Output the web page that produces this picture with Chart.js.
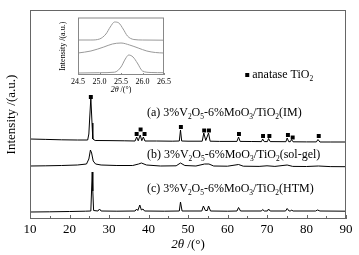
<!DOCTYPE html>
<html>
<head>
<meta charset="utf-8">
<script src="https://cdn.jsdelivr.net/npm/chart.js@4.4.1/dist/chart.umd.min.js"></script>
<style>
  html, body { margin: 0; padding: 0; background: #fff; }
  #wrap { position: relative; width: 359px; height: 255px; }
  #xrdChart { position: absolute; left: 0; top: 0; width: 359px; height: 255px; }
  #insetChart { position: absolute; left: 55px; top: 12px; width: 120px; height: 88px; }
</style>
</head>
<body>
<div id="wrap">
  <canvas id="xrdChart" width="359" height="255"></canvas>
  <canvas id="insetChart" width="120" height="88"></canvas>
</div>
<script>
// XRD patterns, [2θ, intensity (a.u.)]
const imPattern = [[10,80],[14,79.6],[18,79.2],[22,79],[24.6,79],[24.9,85],[25.1,100],[25.4,121],[25.7,96],[25.9,80],[26.5,78.5],
  [30,78.4],[34,78.2],[36.6,78],[37.0,82],[37.4,78.2],[37.9,84],[38.3,78.3],[38.7,82],[39.1,78],[42,78],[46,77.8],
  [47.8,78],[48.1,89],[48.4,78],[50,77.8],[53.6,77.8],[54.0,86],[54.5,78.5],[55.2,86],[55.6,77.8],[58,77.6],
  [62.4,77.6],[62.8,82],[63.2,77.6],[66,77.5],[68.6,77.4],[68.9,80],[69.3,77.4],[70.1,77.4],[70.4,80.5],[70.8,77.4],
  [74.8,77.3],[75.1,81],[75.5,77.3],[75.9,77.3],[76.2,79.5],[76.6,77.2],[80,77.1],[82.5,77.1],[82.9,79.5],[83.4,77],[86,77],[90,77]];
const solGelPattern = [[10,53],[14,53.2],[18,53.5],[22,54],[24.3,55],[24.9,60],[25.3,69],[25.6,66],[26.0,58],[26.6,55],[28,54],
  [32,53.5],[36,53.5],[37.5,55],[38.2,56],[39.5,54],[43,53],[47,53.2],[48.1,56],[49.2,53.5],[52,53],[54.2,55],[55.3,55],
  [56.5,53],[60,52.8],[62.8,54.5],[64,52.8],[68,52.6],[70,53.2],[72,52.6],[75.1,54],[76.5,52.6],[80,52.5],[83,53],[86,52.4],[90,52.3]];
const htmPattern = [[10,7],[15,7.2],[20,7.5],[24,7.8],[25.4,8],[25.6,30],[25.75,47],[25.9,28],[26.1,8.5],[27.2,8],[27.6,10],[28,8],
  [32,7.8],[36.6,8],[37.0,10],[37.3,8.5],[37.8,14],[38.2,9],[38.6,10],[39,8],[44,7.8],[47.8,8],[48.1,17],[48.5,8],
  [53.5,8],[53.9,13],[54.4,8.5],[54.9,8.5],[55.2,13],[55.7,8],[60,7.8],[62.4,8],[62.8,11.5],[63.3,8],[68.6,8],[68.9,9.5],
  [69.3,8],[70.1,8],[70.4,10],[70.8,8],[74.7,8],[75.1,10.5],[75.6,8],[76.0,8],[76.2,9],[76.6,8],[82.3,8],[82.8,9],[83.4,8],[90,7.8]];
// anatase markers over pattern (a)
const anataseMarks = [[25.4,122],[37.0,85],[38.0,89.5],[39.0,85],[48.2,92],[54.1,88.5],[55.3,88.5],[62.9,85],
  [69.0,83],[70.6,83],[75.3,84],[76.5,81.5],[83.1,83]];
const sampleLabels = ['(a) 3%V_2O_5-6%MoO_3/TiO_2(IM)', '(b) 3%V_2O_5-6%MoO_3/TiO_2(sol-gel)', '(c) 3%V_2O_5-6%MoO_3/TiO_2(HTM)'];
const legendLabel = 'anatase TiO_2';

// inset: the (101) peak, 24.5-26.5°
const insetIM = [[24.5,35],[24.8,35],[25.0,36],[25.15,41],[25.25,48],[25.35,53],[25.45,52],[25.55,46],[25.65,39],[25.8,35.5],[26.0,35],[26.5,34.8]];
const insetSolGel = [[24.5,22],[24.8,24],[25.1,28],[25.3,31],[25.5,32],[25.7,30],[25.9,27],[26.1,24],[26.3,22.5],[26.5,22]];
const insetHTM = [[24.5,2],[25.0,2.3],[25.35,2.8],[25.5,8],[25.6,16],[25.68,20],[25.78,18],[25.88,12],[26.0,4],[26.2,2.5],[26.5,2.3]];

const FONT = "'Liberation Serif', 'DejaVu Serif', serif";
Chart.defaults.font.family = FONT;
Chart.defaults.color = '#000';

const toXY = arr => arr.map(p => ({ x: p[0], y: p[1] }));

// text with _x subscripts and *italic* parts
function drawRich(ctx, str, x, y, size, align) {
  const parts = [];
  let italic = false;
  for (let i = 0; i < str.length; i++) {
    const c = str[i];
    if (c === '*') { italic = !italic; continue; }
    if (c === '_') { parts.push({ t: str[i + 1], sub: true, it: italic }); i++; continue; }
    const last = parts[parts.length - 1];
    if (last && !last.sub && last.it === italic) last.t += c;
    else parts.push({ t: c, sub: false, it: italic });
  }
  const fontOf = p => (p.it ? 'italic ' : '') + (p.sub ? size * 0.62 : size) + 'px ' + FONT;
  let w = 0;
  parts.forEach(p => { ctx.font = fontOf(p); p.w = ctx.measureText(p.t).width; w += p.w; });
  let cx = align === 'center' ? x - w / 2 : x;
  ctx.textBaseline = 'middle';
  ctx.textAlign = 'left';
  parts.forEach(p => {
    ctx.font = fontOf(p);
    ctx.fillText(p.t, cx, p.sub ? y + size * 0.32 : y);
    cx += p.w;
  });
}

const xrdDecor = {
  id: 'xrdDecor',
  afterDraw(chart) {
    const { ctx, chartArea: a, scales: { x, y } } = chart;
    ctx.save();
    ctx.strokeStyle = '#666';
    ctx.lineWidth = 1;
    ctx.strokeRect(a.left + 0.5, a.top + 0.5, a.right - a.left - 1, a.bottom - a.top - 1);
    ctx.beginPath();
    for (let v = 10; v <= 90; v += 5) {
      const px = Math.round(x.getPixelForValue(v)) + 0.5;
      ctx.moveTo(px, a.bottom);
      ctx.lineTo(px, a.bottom - (v % 10 ? 3 : 4));
    }
    ctx.stroke();

    ctx.fillStyle = '#000';
    const lx = x.getPixelForValue(39.6);
    drawRich(ctx, sampleLabels[0], lx, y.getPixelForValue(106), 12, 'left');
    drawRich(ctx, sampleLabels[1], lx, y.getPixelForValue(64), 12, 'left');
    drawRich(ctx, sampleLabels[2], lx, y.getPixelForValue(30), 12, 'left');

    // legend
    const gx = x.getPixelForValue(65), gy = y.getPixelForValue(144);
    ctx.fillRect(gx - 2, gy - 2, 4, 4);
    drawRich(ctx, legendLabel, gx + 5, gy, 12, 'left');

    // axis titles
    drawRich(ctx, '*2θ* /(°)', (a.left + a.right) / 2, 245, 13, 'center');
    ctx.translate(12, (a.top + a.bottom) / 2);
    ctx.rotate(-Math.PI / 2);
    drawRich(ctx, 'Intensity /(a.u.)', 0, 0, 13, 'center');
    ctx.restore();
  }
};

const line = (data, color) => ({
  type: 'line', data: toXY(data), borderColor: color, borderWidth: 1,
  pointRadius: 0, tension: 0, fill: false
});

new Chart(document.getElementById('xrdChart').getContext('2d'), {
  data: {
    datasets: [
      line(imPattern, '#000'),
      line(solGelPattern, '#000'),
      line(htmPattern, '#000'),
      {
        type: 'scatter', data: toXY(anataseMarks), pointStyle: 'rect',
        pointRadius: 2.8, backgroundColor: '#000', borderColor: '#000', borderWidth: 0
      }
    ]
  },
  options: {
    responsive: false,
    animation: false,
    layout: { padding: { left: 30, right: 13, top: 10, bottom: 0 } },
    plugins: { legend: { display: false }, tooltip: { enabled: false } },
    scales: {
      x: {
        type: 'linear', min: 10, max: 90,
        afterFit: s => { s.height = 36; },
        grid: { display: false, drawTicks: false },
        border: { display: false },
        ticks: { stepSize: 10, padding: 3, color: '#000', font: { size: 13 } }
      },
      y: { display: false, min: 0, max: 209 }
    }
  },
  plugins: [xrdDecor]
});

const insetDecor = {
  id: 'insetDecor',
  afterDraw(chart) {
    const { ctx, chartArea: a, scales: { x } } = chart;
    ctx.save();
    ctx.strokeStyle = '#888';
    ctx.lineWidth = 1;
    ctx.strokeRect(a.left + 0.5, a.top + 0.5, a.right - a.left - 1, a.bottom - a.top - 1);
    ctx.beginPath();
    for (let v = 24.5; v <= 26.5; v += 0.5) {
      const px = Math.round(x.getPixelForValue(v)) + 0.5;
      ctx.moveTo(px, a.bottom);
      ctx.lineTo(px, a.bottom - 2);
    }
    ctx.stroke();
    ctx.fillStyle = '#000';
    drawRich(ctx, '*2θ* /(°)', (a.left + a.right) / 2, 78, 8, 'center');
    ctx.translate(8, (a.top + a.bottom) / 2);
    ctx.rotate(-Math.PI / 2);
    drawRich(ctx, 'Intensity /(a.u.)', 0, 0, 8, 'center');
    ctx.restore();
  }
};

const insetLine = data => ({
  type: 'line', data: toXY(data), borderColor: '#999', borderWidth: 1,
  pointRadius: 0, cubicInterpolationMode: 'monotone', fill: false
});

new Chart(document.getElementById('insetChart').getContext('2d'), {
  data: { datasets: [insetLine(insetIM), insetLine(insetSolGel), insetLine(insetHTM)] },
  options: {
    responsive: false,
    animation: false,
    layout: { padding: { left: 23, right: 11, top: 5.5, bottom: 0 } },
    plugins: { legend: { display: false }, tooltip: { enabled: false } },
    scales: {
      x: {
        type: 'linear', min: 24.5, max: 26.5,
        afterFit: s => { s.height = 25; },
        grid: { display: false, drawTicks: false },
        border: { display: false },
        ticks: { stepSize: 0.5, padding: 2, color: '#000', font: { size: 8 }, callback: v => v.toFixed(1) }
      },
      y: { display: false, min: 0, max: 57.5 }
    }
  },
  plugins: [insetDecor]
});
</script>
</body>
</html>
